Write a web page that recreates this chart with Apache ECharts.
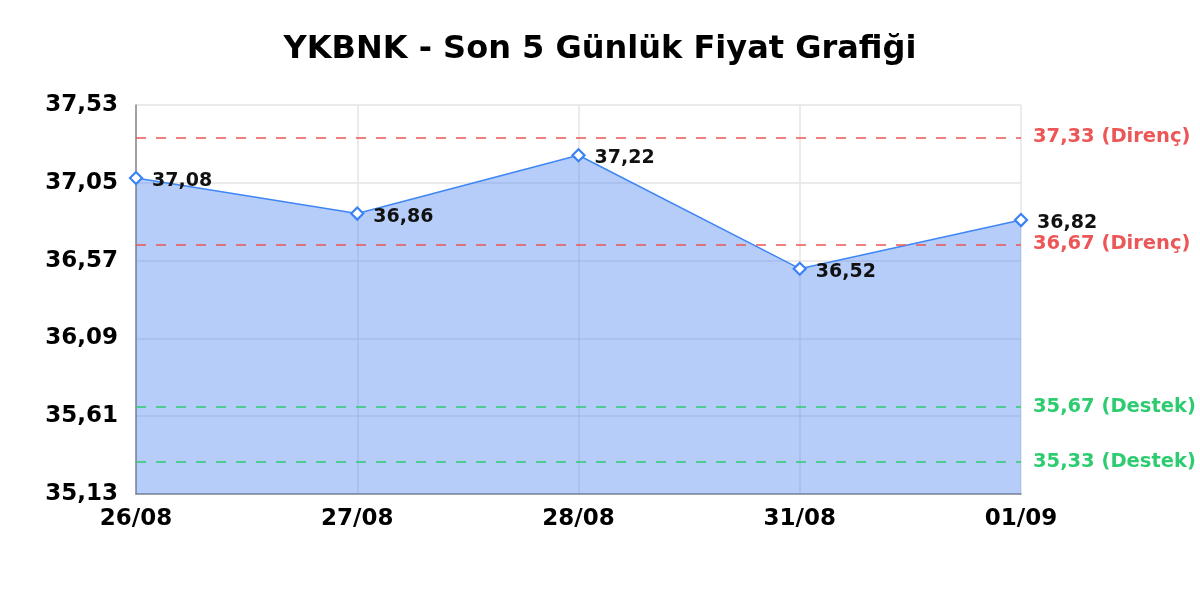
<!DOCTYPE html>
<html><head><meta charset="utf-8">
<script src="https://cdn.jsdelivr.net/npm/echarts@6/dist/echarts.min.js"></script>
<style>html,body{margin:0;padding:0;background:#fff}#c{width:1200px;height:600px}</style>
</head><body><div id="c"></div>
<script>
var categories = ['26/08','27/08','28/08','31/08','01/09'];
var prices = [37.08, 36.86, 37.22, 36.52, 36.82];
var resistance = [37.33, 36.67];
var support = [35.67, 35.33];
var yMin = 35.13, yMax = 37.53, yStep = 0.48;

function fmt(v){ return v.toFixed(2).replace('.', ','); }

var F = 'DejaVu Sans';
var RED = '#ec5656', GREEN = '#2ecc71';
var marks = [];
resistance.forEach(function(v){
  marks.push({yAxis: v, lineStyle:{color:RED, type:[10,10], width:1.6},
    label:{formatter: fmt(v)+' (Direnç)', color:RED}});
});
support.forEach(function(v){
  marks.push({yAxis: v, lineStyle:{color:GREEN, type:[10,10], width:1.6},
    label:{formatter: fmt(v)+' (Destek)', color:GREEN}});
});

var chart = echarts.init(document.getElementById('c'));
chart.setOption({
  animation:false,
  title:{text:'YKBNK - Son 5 Günlük Fiyat Grafiği', left:'center', top:29,
    textStyle:{fontFamily:F, fontWeight:'bold', fontSize:32, color:'#000'}},
  grid:{left:136, right:179, top:105, bottom:106},
  xAxis:{type:'category', data:categories, boundaryGap:false,
    axisLine:{lineStyle:{color:'#888', width:1.5}},
    axisTick:{show:false},
    splitLine:{show:true, lineStyle:{color:'#e4e4e4', width:1.5}},
    axisLabel:{fontFamily:F, fontWeight:'bold', fontSize:23, color:'#000', margin:14, interval:0}},
  yAxis:{type:'value', min:yMin, max:yMax, interval:yStep,
    axisLine:{show:true, lineStyle:{color:'#888', width:1.5}},
    axisTick:{show:false},
    splitLine:{show:true, lineStyle:{color:'#e4e4e4', width:1.5}},
    axisLabel:{fontFamily:F, fontWeight:'bold', fontSize:23, color:'#000', margin:18,
      formatter:function(v){return fmt(v);}}},
  series:[{
    type:'line', data:prices,
    symbol:'diamond', symbolSize:12,
    itemStyle:{color:'#fff', borderColor:'#3b82f6', borderWidth:2.2},
    lineStyle:{color:'#3f86f5', width:1.5},
    areaStyle:{color:'rgb(60,120,240)', opacity:0.37},
    label:{show:true, position:'right', distance:9, offset:[0,3], formatter:function(p){return fmt(p.value);},
      fontFamily:F, fontWeight:'bold', fontSize:19, color:'#111'},
    markLine:{symbol:'none', silent:true, data:marks,
      label:{position:'end', distance:12, fontFamily:F, fontWeight:'bold', fontSize:19.5}}
  }]
});
</script></body></html>
